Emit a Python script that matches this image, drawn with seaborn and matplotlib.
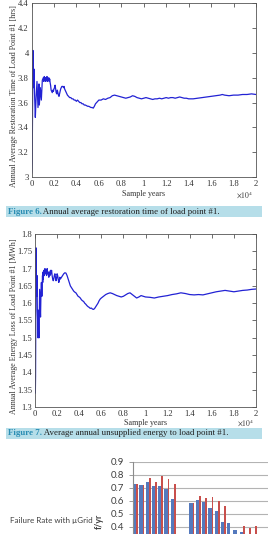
import numpy as np
import pandas as pd
import seaborn as sns
import matplotlib.pyplot as plt
from matplotlib.patches import Rectangle

# Figure 6: annual average restoration time of load point #1 [hrs]
rt_years = [20, 60, 130, 193, 222, 282, 341, 400, 489, 578, 667, 697, 786, 875, 964, 1053,
            1100, 1140, 1180, 1220, 1260, 1300, 1340, 1380, 1420, 1460, 1500, 1540, 1580,
            1620, 1660, 1700, 1750, 1800, 1850, 1900, 1950, 2000, 2050, 2100, 2150,
            2200, 2250, 2300, 2350, 2400, 2450, 2500, 2550, 2600, 2650, 2700, 2800,
            2850, 2900, 2950, 3000, 3100, 3200, 3300, 3400, 3500, 3600, 3700, 3800,
            3900, 4000, 4100, 4200, 4300, 4400, 4500, 4600, 4700, 4800, 4900, 5000,
            5100, 5200, 5300, 5400, 5500, 5600, 5700, 5800, 5900, 6000, 6200, 6400,
            6600, 6800, 7000, 7200, 7400, 7600, 7800, 8000, 8200, 8400, 8600, 8800,
            9000, 9200, 9400, 9600, 9800, 10000, 10200, 10400, 10600, 10800, 11000,
            11200, 11400, 11600, 11800, 12000, 12200, 12400, 12600, 12800, 13000,
            13200, 13400, 13600, 13800, 14000, 14400, 14800, 15200, 15600, 16000,
            16400, 16800, 17000, 17200, 17600, 18000, 18400, 18800, 19200, 19600, 20000]
rt_hours = [3.03, 3.12, 4.02, 3.72, 3.87, 3.64, 3.48, 3.62, 3.77, 3.56, 3.75, 3.58, 3.72,
            3.62, 3.78, 3.80, 3.77, 3.81, 3.78, 3.80, 3.77, 3.80, 3.78, 3.81, 3.77, 3.79,
            3.78, 3.80, 3.77, 3.79, 3.76, 3.74, 3.70, 3.69, 3.68, 3.70, 3.69, 3.71, 3.72,
            3.74, 3.71, 3.68, 3.67, 3.70, 3.68, 3.66, 3.65, 3.67, 3.69, 3.71, 3.72, 3.73,
            3.73, 3.72, 3.73, 3.71, 3.70, 3.68, 3.66, 3.65, 3.64, 3.64, 3.63, 3.63, 3.62,
            3.62, 3.61, 3.62, 3.61, 3.60, 3.60, 3.59, 3.59, 3.58, 3.58, 3.575, 3.57, 3.57,
            3.565, 3.56, 3.56, 3.555, 3.57, 3.59, 3.60, 3.61, 3.62, 3.62, 3.63, 3.625,
            3.635, 3.64, 3.655, 3.66, 3.655, 3.65, 3.645, 3.64, 3.635, 3.64, 3.645, 3.655,
            3.65, 3.64, 3.635, 3.63, 3.635, 3.64, 3.635, 3.63, 3.625, 3.63, 3.63, 3.635,
            3.63, 3.635, 3.64, 3.635, 3.64, 3.64, 3.635, 3.64, 3.645, 3.64, 3.635, 3.635,
            3.63, 3.63, 3.635, 3.64, 3.645, 3.65, 3.655, 3.66, 3.665, 3.66, 3.655, 3.66,
            3.66, 3.665, 3.665, 3.67, 3.665]

# Figure 7: annual average energy loss of load point #1 [MWh]
el_years = [30, 50, 90, 120, 150, 180, 210, 240, 270, 300, 330, 360, 390, 420, 460, 500,
            540, 580, 620, 650, 680, 700, 720, 750, 800, 850, 900, 950, 1000, 1050, 1100,
            1150, 1200, 1250, 1300, 1350, 1400, 1450, 1500, 1550, 1600, 1650, 1700, 1750,
            1800, 1850, 1900, 1950, 2000, 2050, 2100, 2150, 2200, 2250, 2300, 2400, 2500,
            2600, 2700, 2800, 2900, 3000, 3100, 3200, 3300, 3400, 3500, 3600, 3700, 3800,
            3900, 4000, 4100, 4200, 4300, 4400, 4500, 4600, 4700, 4800, 4900, 5000, 5100,
            5200, 5300, 5400, 5500, 5600, 5700, 5800, 5900, 6000, 6200, 6400, 6600, 6800,
            7000, 7200, 7400, 7600, 7800, 8000, 8200, 8400, 8600, 8800, 9000, 9200, 9400,
            9600, 9800, 10000, 10400, 10800, 11200, 11600, 12000, 12400, 12800, 13200,
            13600, 14000, 14400, 14800, 15200, 15600, 16000, 16400, 16800, 17200, 17600,
            18000, 18400, 18800, 19200, 19600, 20000]
el_mwh = [1.34, 1.39, 1.76, 1.70, 1.62, 1.68, 1.58, 1.55, 1.50, 1.58, 1.52, 1.50, 1.56,
          1.64, 1.60, 1.56, 1.63, 1.66, 1.62, 1.65, 1.68, 1.66, 1.69, 1.67, 1.695, 1.68,
          1.70, 1.685, 1.695, 1.68, 1.70, 1.685, 1.69, 1.675, 1.69, 1.68, 1.695, 1.685,
          1.695, 1.68, 1.67, 1.665, 1.67, 1.68, 1.685, 1.675, 1.665, 1.67, 1.685, 1.68,
          1.67, 1.66, 1.665, 1.675, 1.67, 1.675, 1.68, 1.685, 1.688, 1.687, 1.68, 1.67,
          1.66, 1.65, 1.645, 1.64, 1.635, 1.632, 1.63, 1.625, 1.62, 1.618, 1.615, 1.61,
          1.607, 1.605, 1.60, 1.597, 1.593, 1.59, 1.588, 1.585, 1.586, 1.583, 1.582,
          1.585, 1.59, 1.595, 1.60, 1.607, 1.612, 1.615, 1.62, 1.625, 1.628, 1.63, 1.628,
          1.625, 1.622, 1.62, 1.618, 1.62, 1.624, 1.628, 1.63, 1.625, 1.62, 1.615, 1.618,
          1.622, 1.62, 1.618, 1.617, 1.615, 1.618, 1.62, 1.622, 1.625, 1.627, 1.63,
          1.628, 1.625, 1.624, 1.625, 1.624, 1.627, 1.63, 1.633, 1.635, 1.637, 1.635,
          1.633, 1.635, 1.637, 1.638, 1.64, 1.641]

# failure rate bar chart (f/yr), blue / red series
lp_names = ["LP1", "LP2", "LP3", "LP4", "LP5", "LP6", "LP7", "LP8", "LP9", "LP10", "LP11",
            "LP12", "LP13", "LP14", "LP15", "LP16", "LP17", "LP18", "LP19", "LP20",
            "LP21", "LP22"]
rate_without = [0.727, 0.721, 0.742, 0.716, 0.714, 0.693, 0.613, np.nan, np.nan, 0.585,
                0.608, 0.592, 0.545, 0.521, 0.433, 0.425, 0.374, 0.357, 0.33, 0.32,
                0.30, 0.30]
rate_with = [0.727, 0.721, 0.773, 0.747, 0.791, 0.768, 0.727, np.nan, np.nan, 0.585,
             0.637, 0.620, 0.630, 0.597, 0.556, 0.33, 0.33, 0.404, 0.389, 0.404,
             0.32, 0.30]
rate_ticks = [0.4, 0.5, 0.6, 0.7, 0.8, 0.9]

W, H = 268, 534
LINE = "#2222d4"

sns.set_style("white")
plt.rcParams["font.family"] = ["Liberation Serif", "DejaVu Serif"]
plt.rcParams["mathtext.fontset"] = "stix"

fig = plt.figure(figsize=(W / 100, H / 100), dpi=100)
fig.patch.set_facecolor("white")


def px_axes(left, top, right, bottom):
    return fig.add_axes([left / W, 1 - bottom / H, (right - left) / W, (bottom - top) / H])


def matlab_style(ax, y0, y1, step):
    ax.set_xlim(0, 2)
    ax.set_ylim(y0, y1)
    xt = np.round(np.arange(0, 2.01, 0.2), 2)
    ax.set_xticks(xt)
    ax.set_xticklabels([f"{v:g}" for v in xt])
    yt = np.round(np.arange(y0, y1 + step / 2, step), 3)
    ax.set_yticks(yt)
    ax.set_yticklabels([f"{v:g}" for v in yt])
    ax.tick_params(direction="in", length=3, width=0.5, top=True, right=True,
                   labelsize=6.2, pad=2, colors="#333333")
    for s in ax.spines.values():
        s.set_visible(True)
        s.set_linewidth(0.6)
        s.set_color("#555555")
    ax.patch.set_alpha(0)


# pixel overlay for captions and loose text
ov = fig.add_axes([0, 0, 1, 1])
ov.set_xlim(0, W)
ov.set_ylim(H, 0)
ov.axis("off")

# ---- chart 1
ax1 = px_axes(31.5, 3.3, 256, 177)
sns.lineplot(x=np.array(rt_years) / 1e4, y=rt_hours, ax=ax1, color=LINE, lw=0.9)
matlab_style(ax1, 3.0, 4.4, 0.2)
ax1.set_xlabel("Sample years", fontsize=5.8, color="#333333")
ax1.xaxis.set_label_coords(0.5, -0.072)
ax1.set_ylabel("Annual Average Restoration Time of Load Point #1 [hrs]", fontsize=5.8,
               color="#333333")
ax1.yaxis.set_label_coords(-0.06, 0.466)
ov.text(245, 195, r"$\times10^{4}$", fontsize=5.5, ha="center", va="center", color="#333333")

# ---- chart 2
ax2 = px_axes(35, 234, 256, 407)
sns.lineplot(x=np.array(el_years) / 1e4, y=el_mwh, ax=ax2, color=LINE, lw=0.9)
matlab_style(ax2, 1.3, 1.8, 0.05)
ax2.set_xlabel("Sample years", fontsize=5.8, color="#333333")
ax2.xaxis.set_label_coords(0.5, -0.0665)
ax2.set_ylabel("Annual Average Energy Loss of Load Point #1 [MWh]", fontsize=5.8,
               color="#333333")
ax2.yaxis.set_label_coords(-0.077, 0.468)
ov.text(246, 423, r"$\times10^{4}$", fontsize=5.5, ha="center", va="center", color="#333333")

# ---- captions
captions = [(211.5, "Figure 6.", " Annual average restoration time of load point #1."),
            (433, "Figure 7.", " Average annual unsupplied energy to load point #1.")]
for yc, head, rest in captions:
    ov.add_patch(Rectangle((6, yc - 5.5), 256, 11, facecolor="#b6dee9", edgecolor="none"))
    t = ov.text(7.5, yc, head, fontsize=6.4, color="#2a8db3", weight="bold", va="center")
    ov.annotate(rest, xy=(1, 0.5), xycoords=t, fontsize=6.4, color="#1e1e1e", va="center")

# ---- bar chart (cut off at the bottom/right like the source page)
ax3 = px_axes(132.5, 462, 132.5 + 22 * 6.26, 578.1)
bars = pd.DataFrame({
    "lp": lp_names * 2,
    "rate": rate_without + rate_with,
    "series": ["Failure Rate without µGrid"] * len(lp_names) + ["Failure Rate with µGrid"] * len(lp_names),
})
sns.barplot(data=bars, x="lp", y="rate", hue="series", order=lp_names,
            palette=["#5479bd", "#c84f4c"], width=0.8, legend=False, linewidth=0,
            saturation=1, ax=ax3)
for b in ax3.containers[0]:
    b.set_width(0.52)
for b in ax3.containers[1]:
    b.set_x(b.get_x() + 0.12)
    b.set_width(0.28)
ax3.set_xlim(-0.5, len(lp_names) - 0.5)
ax3.set_ylim(0, 0.9)
ax3.set_yticks(rate_ticks)
ax3.set_yticklabels([f"{v:g}" for v in rate_ticks], family="Lato", fontsize=7, color="#404040")
ax3.tick_params(axis="y", direction="out", length=3, width=0.6, color="#8c8c8c", pad=3, left=True)
ax3.set_xticks([])
ax3.set_xlabel("")
ax3.yaxis.grid(True, color="#b3b3b3", lw=0.8)
ax3.set_axisbelow(True)
for side in ["top", "right", "bottom"]:
    ax3.spines[side].set_visible(False)
ax3.spines["left"].set_color("#8c8c8c")
ax3.spines["left"].set_linewidth(0.8)
ax3.patch.set_alpha(0)
ax3.set_ylabel("f/yr", family="Lato", weight="bold", fontsize=6.3, color="#404040")
ax3.yaxis.set_label_coords(-0.21, 0.492)
ov.text(10, 520.5, "Failure Rate with µGrid", family="Lato", fontsize=5.8, color="#404040",
        va="center")

fig.savefig("out.png", dpi=100)
